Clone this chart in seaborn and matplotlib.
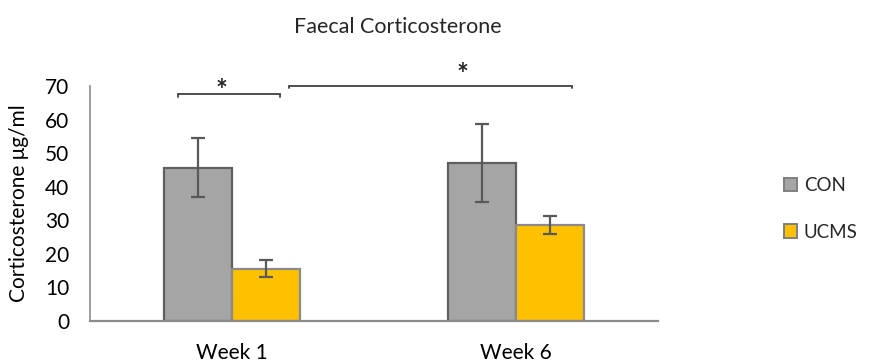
import matplotlib
matplotlib.use("Agg")
import matplotlib.pyplot as plt
import seaborn as sns
import pandas as pd
import numpy as np

weeks = ["Week 1", "Week 6"]
groups = ["CON", "UCMS"]
con_means = [45.7, 47.1]
ucms_means = [15.6, 28.5]
con_err = [8.7, 11.7]
ucms_err = [2.5, 2.7]
title = "Faecal Corticosterone"
ylabel = "Corticosterone \u03bcg/ml"
yticks = [0, 10, 20, 30, 40, 50, 60, 70]

df = pd.DataFrame({
    "week": weeks * 2,
    "group": [groups[0]] * 2 + [groups[1]] * 2,
    "value": con_means + ucms_means,
    "err": con_err + ucms_err,
})

sns.set_theme(style="white")
plt.rcParams["font.family"] = ["Lato", "DejaVu Sans"]

fig = plt.figure(figsize=(8.69, 3.63), dpi=100)
ax = fig.add_axes([90/869, 42/363, 568/869, 235/363])

palette = {"CON": "#A5A5A5", "UCMS": "#FFC000"}
sns.barplot(data=df, x="week", y="value", hue="group", order=weeks,
            hue_order=groups, palette=palette, width=0.48, errorbar=None,
            saturation=1, ax=ax, legend=True)

edgecols = {"CON": "#5f5f5f", "UCMS": "#8a8a8a"}
for cont, g in zip(ax.containers, groups):
    for bar in cont:
        bar.set_edgecolor(edgecols[g])
        bar.set_linewidth(1.6)
    sub = df[df["group"] == g].set_index("week").loc[weeks]
    xs = [b.get_x() + b.get_width() / 2 for b in cont]
    ax.errorbar(xs, sub["value"].values, yerr=sub["err"].values, fmt="none",
                ecolor="#595959", elinewidth=1.6, capsize=5, capthick=1.6,
                zorder=5)

ax.set_xlim(-0.5, 1.5)
ax.set_ylim(0, 70)
ax.set_yticks(yticks)
ax.tick_params(axis="both", length=0, labelsize=15, colors="black")
ax.tick_params(axis="y", pad=15)
ax.tick_params(axis="x", pad=16)
ax.set_xlabel("")
ax.set_ylabel(ylabel, fontsize=15, color="black")
ax.yaxis.set_label_coords(-0.107, 0.5)
for s in ["top", "right"]:
    ax.spines[s].set_visible(False)
ax.spines["left"].set_color("#8c8c8c")
ax.spines["left"].set_linewidth(1.2)
ax.spines["bottom"].set_color("#8c8c8c")
ax.spines["bottom"].set_linewidth(1.6)

fig.text(398/869, 1 - 27/363, title, ha="center", va="center", fontsize=15.5)

# significance brackets
def bracket(x0, x1, y, tick=0.7):
    ax.plot([x0, x0, x1, x1], [y - tick, y, y, y - tick], color="#404040",
            lw=1.3, clip_on=False, solid_joinstyle="miter")

bracket(-0.19, 0.169, 67.5)
ax.text(-0.038, 68.6, "*", ha="center", va="center", fontsize=20,
        fontweight="bold", clip_on=False)
bracket(0.2007, 1.197, 70.0)
ax.text(0.81, 73.4, "*", ha="center", va="center", fontsize=20,
        fontweight="bold", clip_on=False)

handles, labels = ax.get_legend_handles_labels()
for h, g in zip(handles, groups):
    h.set_edgecolor("#7f7f7f")
    h.set_linewidth(1.4)
ax.get_legend().remove()
leg = fig.legend(handles, labels, loc="center left",
                 bbox_to_anchor=(784/869, 1 - 209/363), frameon=False,
                 borderpad=0, borderaxespad=0,
                 fontsize=13.5, handlelength=0.7, handleheight=0.7,
                 handletextpad=0.35, labelspacing=1.55)

fig.savefig("out.png", dpi=100)
